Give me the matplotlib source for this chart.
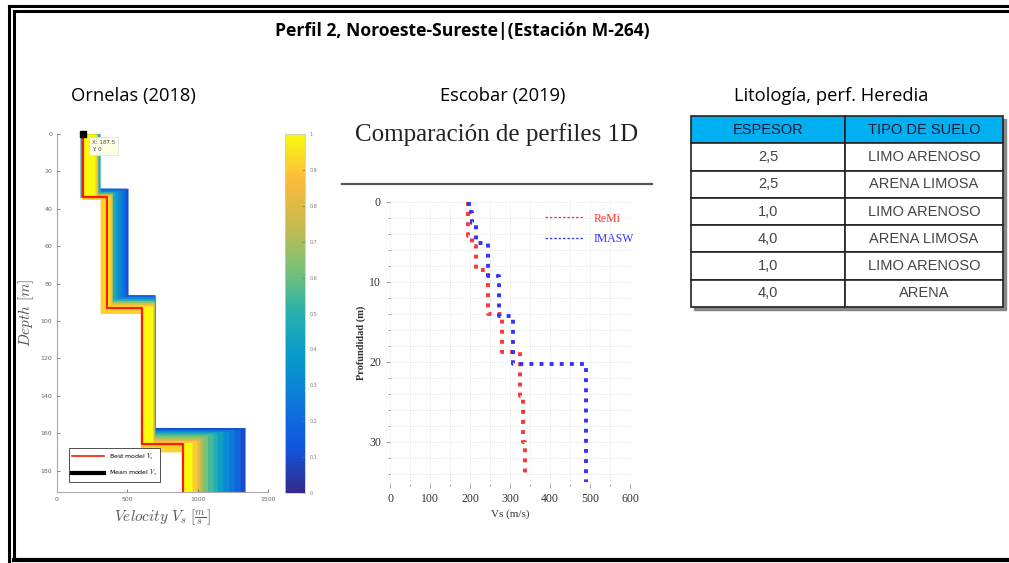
import matplotlib.pyplot as plt
import numpy as np
from matplotlib.colors import LinearSegmentedColormap, Normalize
from matplotlib.cm import ScalarMappable
from matplotlib.lines import Line2D
from matplotlib.patches import Rectangle
from matplotlib.ticker import MultipleLocator

plt.rcParams['mathtext.fontset'] = 'cm'

W, H = 1009, 563

# ---------------- Ornelas (2018) ----------------
# best model: layer tops [m] and Vs [m/s]
best_tops = [0, 33.7, 93, 166]
best_vs = [187.5, 355, 604, 896]
mean_tip = (187.5, 0)
max_depth = 191.5

# ensemble of models around the best one, with their colour value
model_tops = [
    [0, 29, 86, 157],
    [0, 29, 86, 158],
    [0, 30, 87, 158],
    [0, 30, 87, 159],
    [0, 31, 88, 159],
    [0, 34, 94, 168],
    [0, 31, 88, 160],
    [0, 31, 89, 160],
    [0, 32, 89, 161],
    [0, 32, 90, 162],
    [0, 32, 90, 163],
    [0, 33, 91, 164],
    [0, 35, 96, 170],
    [0, 33, 92, 165],
]
model_vs = [
    [300, 505, 697, 1337],
    [300, 490, 695, 1300],
    [300, 470, 695, 1260],
    [302, 450, 695, 1220],
    [304, 430, 697, 1180],
    [163, 320, 600, 893],
    [306, 410, 697, 1140],
    [296, 395, 692, 1110],
    [290, 391, 690, 1070],
    [286, 391, 690, 1040],
    [284, 390, 690, 1017],
    [284, 385, 688, 995],
    [175, 306, 592, 890],
    [270, 370, 680, 960],
]
model_val = [0.10, 0.18, 0.25, 0.32, 0.40, 0.45, 0.48, 0.55, 0.62, 0.70, 0.80, 0.90, 0.92, 1.0]

cbar_ticks = [0, 0.1, 0.2, 0.3, 0.4, 0.5, 0.6, 0.7, 0.8, 0.9, 1]
cbar_labels = ["0", "0.1", "0.2", "0.3", "0.4", "0.5", "0.6", "0.7", "0.8", "0.9", "1"]

# ---------------- Escobar (2019) ----------------
remi_tops = [0, 4.2, 5.5, 8.5, 14.0, 18.8, 24.3, 30.0]
remi_vs = [195, 205, 215, 245, 280, 325, 332, 338]
remi_bottom = 34.5
masw_tops = [0, 1.2, 2.6, 5.1, 9.2, 14.3, 20.2]
masw_vs = [197, 204, 215, 246, 273, 307, 489]
masw_bottom = 35.0

# ---------------- Litologia ----------------
table_header = ["ESPESOR", "TIPO DE SUELO"]
espesor = ["2,5", "2,5", "1,0", "4,0", "1,0", "4,0"]
suelo = ["LIMO ARENOSO", "ARENA LIMOSA", "LIMO ARENOSO", "ARENA LIMOSA",
         "LIMO ARENOSO", "ARENA"]

parula = LinearSegmentedColormap.from_list("parula", [
    (0.000, (0.208, 0.166, 0.529)),
    (0.125, (0.070, 0.330, 0.880)),
    (0.250, (0.050, 0.470, 0.860)),
    (0.375, (0.030, 0.600, 0.800)),
    (0.500, (0.150, 0.690, 0.680)),
    (0.625, (0.480, 0.760, 0.460)),
    (0.750, (0.790, 0.730, 0.300)),
    (0.875, (0.990, 0.730, 0.240)),
    (1.000, (0.976, 0.983, 0.054)),
])


def rect(x0, y0, x1, y1):
    return [x0 / W, 1 - y1 / H, (x1 - x0) / W, (y1 - y0) / H]


def step_at(tops, vs, z):
    idx = np.searchsorted(tops, z, side='right') - 1
    return np.asarray(vs)[idx]


def step_path(tops, vs, bottom):
    xs, ys = [], []
    ends = list(tops[1:]) + [bottom]
    for t, b, v in zip(tops, ends, vs):
        xs += [v, v]
        ys += [t, b]
    return xs, ys


fig = plt.figure(figsize=(W / 100, H / 100), dpi=100)

# page frame
fr = fig.transFigure
for xs, ys, lw in [
    ([9, 9], [6, 563], 2.2), ([14, 14], [11, 560], 2.2),
    ([9, 1009], [6, 6], 2.2), ([14, 1009], [11, 11], 2.2),
    ([14, 1009], [560, 560], 3),
]:
    fig.add_artist(Line2D([x / W for x in xs], [1 - y / H for y in ys],
                          color='black', lw=lw, transform=fr))

fig.text(462 / W, 1 - 31 / H, "Perfil 2, Noroeste-Sureste|(Estación M-264)",
         ha='center', va='center', fontsize=12.6, fontweight='bold',
         family='Open Sans')
fig.text(133 / W, 1 - 96 / H, "Ornelas (2018)", ha='center', va='center',
         fontsize=13.2, family='Open Sans')
fig.text(503 / W, 1 - 96 / H, "Escobar (2019)", ha='center', va='center',
         fontsize=13.2, family='Open Sans')
fig.text(831 / W, 1 - 96 / H, "Litología, perf. Heredia", ha='center',
         va='center', fontsize=13.2, family='Open Sans')

# ---- left panel ----
ax1 = fig.add_axes(rect(57, 134, 268, 492))
z = np.linspace(0, max_depth, 4000)
best_z = step_at(best_tops, best_vs, z)
for i in np.argsort(model_val, kind='stable'):
    mz = step_at(model_tops[i], model_vs[i], z)
    ax1.fill_betweenx(z, best_z, mz, color=parula(model_val[i]), lw=0)
bx, by = step_path(best_tops, best_vs, max_depth)
ax1.plot(bx, by, color='#ff1a00', lw=1.6)
ax1.plot(*mean_tip, 's', color='black', ms=4, clip_on=False, zorder=5)
ax1.annotate("X: 187.5\nY: 0", xy=mean_tip, xytext=(6, -4),
             textcoords='offset points', va='top', ha='left', fontsize=4,
             color='#444', linespacing=1.6,
             bbox=dict(boxstyle='square,pad=0.5', fc='#ffffe6', ec='#dddddd', lw=0.5))
ax1.set_xlim(0, 1500)
ax1.set_ylim(max_depth, 0)
ax1.set_xticks([0, 500, 1000, 1500])
ax1.set_yticks([0, 20, 40, 60, 80, 100, 120, 140, 160, 180])
ax1.spines[['top', 'right']].set_visible(False)
ax1.spines[['left', 'bottom']].set_color('#aaaaaa')
ax1.tick_params(labelsize=4.5, colors='#666666', direction='in', length=2, width=0.6)
ax1.set_xlabel(r"$Velocity\ V_s\ [\frac{m}{s}]$", fontsize=11, color='#555', labelpad=4)
ax1.set_ylabel(r"$Depth\ [m]$", fontsize=11, color='#555', labelpad=3)
leg1 = ax1.legend([Line2D([], [], color='#ff1a00', lw=1.2),
                   Line2D([], [], color='black', lw=3)],
                  [r"Best model $V_s$", r"Mean model $V_s$"],
                  loc='lower left', bbox_to_anchor=(0.04, 0.02), fontsize=4.5,
                  fancybox=False, edgecolor='#333333', framealpha=1,
                  handlelength=5, borderpad=0.6, labelspacing=1.0)
leg1.get_frame().set_linewidth(0.6)

# colorbar
cax = fig.add_axes(rect(285, 134, 305, 493))
cb = fig.colorbar(ScalarMappable(norm=Normalize(0, 1), cmap=parula), cax=cax)
cb.set_ticks(cbar_ticks)
cb.set_ticklabels(cbar_labels)
cb.outline.set_edgecolor('#cccccc')
cb.outline.set_linewidth(0.6)
cax.tick_params(labelsize=3.5, colors='#777777', direction='in', length=2, width=0.5)

# ---- middle panel ----
fig.text(497 / W, 1 - 135 / H, "Comparación de perfiles 1D", ha='center',
         va='center', fontsize=18, family='Liberation Serif', color='#222222')
fig.add_artist(Line2D([342 / W, 652 / W], [1 - 184 / H, 1 - 184 / H],
                      color='#555555', lw=1.6, transform=fr))

ax2 = fig.add_axes(rect(390, 202, 630, 484))
rx, ry = step_path(remi_tops, remi_vs, remi_bottom)
mx, my = step_path(masw_tops, masw_vs, masw_bottom)
ax2.plot(rx, ry, color='#ff3333', lw=2.8, ls=(0, (1, 1.6)))
ax2.plot(mx, my, color='#3333ff', lw=2.8, ls=(0, (1, 1.6)))
ax2.set_xlim(0, 600)
ax2.set_ylim(35.25, 0)
ax2.set_xticks([0, 100, 200, 300, 400, 500, 600])
ax2.set_yticks([0, 10, 20, 30])
ax2.xaxis.set_minor_locator(MultipleLocator(50))
ax2.yaxis.set_minor_locator(MultipleLocator(2))
ax2.grid(which='both', color='#dddddd', ls=':', lw=0.6)
for s in ax2.spines.values():
    s.set_visible(False)
ax2.tick_params(which='both', colors='#888888', direction='out', length=3, width=0.6,
                labelcolor='#333333')
ax2.tick_params(which='minor', length=1.5)
for lab in ax2.get_xticklabels() + ax2.get_yticklabels():
    lab.set_family('Liberation Serif')
    lab.set_fontsize(8.5)
ax2.set_xlabel("Vs (m/s)", family='Liberation Serif', fontsize=8, color='#333', labelpad=3)
ax2.set_ylabel("Profundidad (m)", family='Liberation Serif', fontsize=7.5,
               fontweight='bold', color='#333', labelpad=2)
leg2 = ax2.legend([Line2D([], [], color='#ff3333', lw=0.9, ls=(0, (2, 1.5))),
                   Line2D([], [], color='#3333ff', lw=0.9, ls=(0, (2, 1.5)))],
                  ["ReMi", "IMASW"], loc='upper right', bbox_to_anchor=(1.06, 1.0),
                  frameon=False, prop={'family': 'Liberation Serif', 'size': 8.5},
                  handlelength=3.3, labelspacing=0.7)
for t, c in zip(leg2.get_texts(), ['#ff3333', '#3333ff']):
    t.set_color(c)

# ---- table ----
fig.add_artist(Rectangle(((691 + 3) / W, 1 - (307 + 3) / H), 312 / W, 191 / H,
                         transform=fr, color='#888888', zorder=-1))
tax = fig.add_axes(rect(691, 116, 1003, 307))
tax.axis('off')
rows = [[e, s] for e, s in zip(espesor, suelo)]
tbl = tax.table(cellText=rows, colLabels=table_header, cellLoc='center',
                bbox=[0, 0, 1, 1], colWidths=[0.494, 0.506])
tbl.auto_set_font_size(False)
tbl.set_fontsize(10.5)
for (r, c), cell in tbl.get_celld().items():
    cell.set_linewidth(1.2)
    cell.set_edgecolor('#222222')
    txt = cell.get_text()
    txt.set_fontfamily('Liberation Sans')
    if r == 0:
        cell.set_facecolor('#00b0f0')
        txt.set_color('#1a1a3a')
    else:
        cell.set_facecolor('white')
        txt.set_color('#444444')

fig.savefig("out.png", dpi=100)
